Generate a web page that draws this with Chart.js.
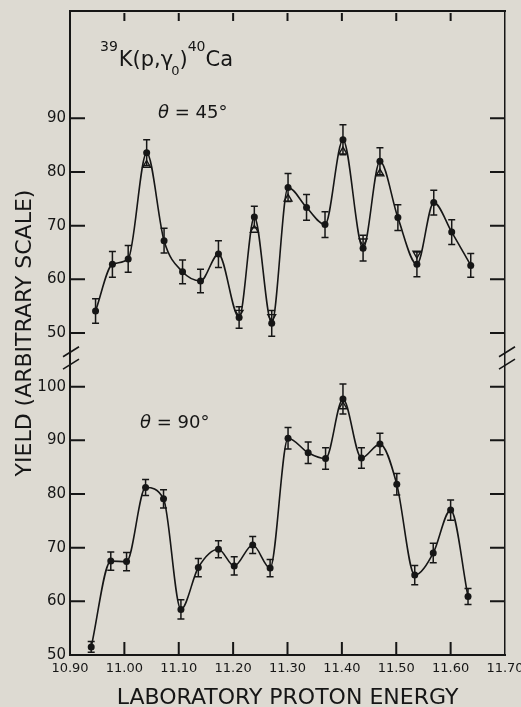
<!DOCTYPE html>
<html>
<head>
<meta charset="utf-8">
<script src="https://cdn.jsdelivr.net/npm/chart.js@4.4.1/dist/chart.umd.min.js"></script>
<style>
  html, body { margin: 0; padding: 0; background: #dddad2; }
  #chart { display: block; }
</style>
</head>
<body>
<canvas id="chart" width="521" height="707"></canvas>
<script>
// 39K(p,g0)40Ca yield vs laboratory proton energy, two detector angles
// The upper panel (45 deg) sits on the same axis, shifted up by panelOffset units.

// theta = 45 deg
const energy45 = [10.947, 10.978, 11.007, 11.041, 11.073, 11.107, 11.140, 11.173, 11.211, 11.239, 11.271,
                  11.301, 11.335, 11.369, 11.402, 11.439, 11.470, 11.503, 11.538, 11.569, 11.602, 11.637];
const yield45 = [54.1, 62.8, 63.8, 83.6, 67.2, 61.4, 59.7, 64.7, 52.9, 71.6, 51.8,
                 77.1, 73.4, 70.2, 86.0, 65.8, 82.0, 71.5, 62.8, 74.3, 68.8, 62.6];
const err45 = [2.3, 2.4, 2.5, 2.4, 2.3, 2.2, 2.2, 2.5, 2.0, 2.0, 2.4,
               2.6, 2.4, 2.4, 2.8, 2.4, 2.5, 2.4, 2.3, 2.3, 2.3, 2.2];

// theta = 90 deg
const energy90 = [10.939, 10.975, 11.004, 11.039, 11.072, 11.104, 11.136, 11.173, 11.202, 11.236, 11.268,
                  11.301, 11.338, 11.370, 11.402, 11.436, 11.470, 11.501, 11.534, 11.568, 11.600, 11.632];
const yield90 = [51.5, 67.5, 67.4, 81.2, 79.1, 58.5, 66.3, 69.7, 66.6, 70.5, 66.2,
                 90.4, 87.7, 86.6, 97.7, 86.7, 89.3, 81.8, 64.9, 69.0, 77.0, 60.9];
const err90 = [1.0, 1.7, 1.7, 1.5, 1.7, 1.8, 1.7, 1.6, 1.7, 1.6, 1.6,
               2.0, 2.0, 2.0, 2.8, 1.9, 2.0, 2.0, 1.8, 1.8, 1.9, 1.5];

// open triangles
const tri45Energy = [11.041, 11.211, 11.239, 11.271, 11.301, 11.402, 11.439, 11.470, 11.538];
const tri45Yield = [81.3, 53.8, 69.2, 53.0, 75.0, 83.8, 67.1, 79.7, 64.8];
const tri45Up = [true, false, true, false, true, true, false, true, false];
const tri90Energy = [11.402];
const tri90Yield = [96.3];
const tri90Up = [true];

// axes
const xTickValues = [10.9, 11.0, 11.1, 11.2, 11.3, 11.4, 11.5, 11.6, 11.7];
const xTickLabels = ['10.90', '11.00', '11.10', '11.20', '11.30', '11.40', '11.50', '11.60', '11.70'];
const lowerTickValues = [50, 60, 70, 80, 90, 100];
const upperTickValues = [50, 60, 70, 80, 90];
const panelOffset = 60;

const INK = '#161616';
const PAPER = '#dddad2';

const yTickPositions = lowerTickValues.concat(upperTickValues.map(v => v + panelOffset));
const yTickText = lowerTickValues.concat(upperTickValues).map(String);

function points(xs, ys, off) {
    return xs.map((x, i) => ({ x: x, y: ys[i] + off }));
}

// paper colour behind everything
const paper = {
    id: 'paper',
    beforeDraw(chart) {
        const ctx = chart.ctx;
        ctx.save();
        ctx.fillStyle = PAPER;
        ctx.fillRect(0, 0, chart.width, chart.height);
        ctx.restore();
    }
};

// error bars with flat caps
const errorBars = {
    id: 'errorBars',
    afterDatasetsDraw(chart) {
        const ctx = chart.ctx, xs = chart.scales.x, ys = chart.scales.y;
        ctx.save();
        ctx.strokeStyle = INK;
        ctx.lineWidth = 1.5;
        const draw = (es, vs, errs, off) => {
            es.forEach((e, i) => {
                const px = xs.getPixelForValue(e);
                const top = ys.getPixelForValue(vs[i] + off + errs[i]);
                const bot = ys.getPixelForValue(vs[i] + off - errs[i]);
                ctx.beginPath();
                ctx.moveTo(px, top); ctx.lineTo(px, bot);
                ctx.moveTo(px - 3.5, top); ctx.lineTo(px + 3.5, top);
                ctx.moveTo(px - 3.5, bot); ctx.lineTo(px + 3.5, bot);
                ctx.stroke();
            });
        };
        draw(energy45, yield45, err45, panelOffset);
        draw(energy90, yield90, err90, 0);
        ctx.restore();
    }
};

// inward ticks on all four sides, break marks, labels inside the frame
const frame = {
    id: 'frame',
    afterDraw(chart) {
        const ctx = chart.ctx, a = chart.chartArea;
        const xs = chart.scales.x, ys = chart.scales.y;
        ctx.save();
        ctx.strokeStyle = INK;
        ctx.lineWidth = 2;
        ctx.beginPath();
        yTickPositions.forEach(v => {
            if (v === ys.min) return;
            const py = ys.getPixelForValue(v);
            ctx.moveTo(a.left, py); ctx.lineTo(a.left + 15, py);
            ctx.moveTo(a.right, py); ctx.lineTo(a.right - 15, py);
        });
        xTickValues.slice(1, -1).forEach(v => {
            const px = xs.getPixelForValue(v);
            ctx.moveTo(px, a.bottom); ctx.lineTo(px, a.bottom - 13);
            ctx.moveTo(px, a.top + 2); ctx.lineTo(px, a.top + 10);
        });
        ctx.stroke();

        // axis break between the panels
        ctx.lineWidth = 1.6;
        ctx.beginPath();
        [104.2, 106.5].forEach(v => {
            const py = ys.getPixelForValue(v);
            [a.left + 1, a.right + 2].forEach(cx => {
                ctx.moveTo(cx - 8, py + 5);
                ctx.lineTo(cx + 8, py - 5);
            });
        });
        ctx.stroke();

        // reaction label
        ctx.fillStyle = INK;
        ctx.textBaseline = 'alphabetic';
        ctx.textAlign = 'left';
        const base = a.top + 55;
        let cx = a.left + 30;
        const piece = (txt, size, dy, style) => {
            ctx.font = (style || '') + size + 'px "DejaVu Sans"';
            ctx.fillText(txt, cx, base + dy);
            cx += ctx.measureText(txt).width;
        };
        piece('39', 14, -15);
        cx += 1;
        piece('K(p,γ', 21, 0);
        cx -= 2;
        piece('0', 13, 9);
        piece(')', 21, 0);
        piece('40', 14, -15);
        piece('Ca', 21, 0);

        // angle labels
        const angle = (txt, x0, yc) => {
            ctx.textBaseline = 'middle';
            ctx.font = 'italic 18px "DejaVu Sans"';
            ctx.fillText('θ', x0, yc);
            const w = ctx.measureText('θ').width;
            ctx.font = '18px "DejaVu Sans"';
            ctx.fillText(' = ' + txt, x0 + w, yc);
        };
        angle('45°', a.left + 88, a.top + 102);
        angle('90°', a.left + 70, a.top + 412);
        ctx.restore();
    }
};

new Chart(document.getElementById('chart'), {
    type: 'line',
    data: {
        datasets: [
            {
                data: points(energy45, yield45, panelOffset),
                borderColor: INK,
                borderWidth: 1.6,
                cubicInterpolationMode: 'monotone',
                pointRadius: 3.5,
                pointBackgroundColor: INK,
                pointBorderWidth: 0
            },
            {
                data: points(energy90, yield90, 0),
                borderColor: INK,
                borderWidth: 1.6,
                cubicInterpolationMode: 'monotone',
                pointRadius: 3.5,
                pointBackgroundColor: INK,
                pointBorderWidth: 0
            },
            {
                data: points(tri45Energy, tri45Yield, panelOffset)
                    .concat(points(tri90Energy, tri90Yield, 0)),
                showLine: false,
                pointStyle: 'triangle',
                pointRotation: tri45Up.concat(tri90Up).map(up => up ? 0 : 180),
                pointRadius: 4.5,
                pointBackgroundColor: PAPER,
                pointBorderColor: INK,
                pointBorderWidth: 1.4
            }
        ]
    },
    options: {
        responsive: false,
        animation: false,
        layout: { padding: 0 },
        plugins: {
            legend: { display: false },
            tooltip: { enabled: false }
        },
        scales: {
            x: {
                type: 'linear',
                position: 'bottom',
                min: 10.9,
                max: 11.7,
                afterBuildTicks: scale => { scale.ticks = xTickValues.map(v => ({ value: v })); },
                afterFit: scale => { scale.height = 52; scale.paddingLeft = 0; scale.paddingRight = 0; },
                grid: { display: false, drawTicks: false },
                border: { color: INK, width: 2 },
                ticks: {
                    autoSkip: false,
                    maxRotation: 0,
                    padding: 6,
                    color: INK,
                    font: { family: 'DejaVu Sans', size: 13 },
                    callback: (v, i) => xTickLabels[i]
                },
                title: {
                    display: true,
                    text: 'LABORATORY PROTON ENERGY',
                    color: INK,
                    font: { family: 'DejaVu Sans', size: 22, lineHeight: 0.82 },
                    padding: { top: 0, bottom: 0 }
                }
            },
            y: {
                type: 'linear',
                position: 'left',
                min: 50,
                max: 170,
                afterBuildTicks: scale => { scale.ticks = yTickPositions.map(v => ({ value: v })); },
                afterFit: scale => { scale.width = 70; scale.paddingTop = 0; scale.paddingBottom = 0; },
                grid: { display: false, drawTicks: false },
                border: { color: INK, width: 2 },
                ticks: {
                    padding: 4,
                    color: INK,
                    font: { family: 'DejaVu Sans', size: 15 },
                    callback: (v, i) => yTickText[i]
                },
                title: {
                    display: true,
                    text: 'YIELD (ARBITRARY SCALE)',
                    color: INK,
                    font: { family: 'DejaVu Sans', size: 22, lineHeight: 1.2 },
                    padding: { top: 12, bottom: 0 }
                }
            },
            xTop: {
                type: 'linear',
                position: 'top',
                min: 10.9,
                max: 11.7,
                afterFit: scale => { scale.height = 11; scale.paddingLeft = 0; scale.paddingRight = 0; },
                grid: { display: false, drawTicks: false },
                border: { color: INK, width: 2 },
                ticks: { display: false }
            },
            yRight: {
                type: 'linear',
                position: 'right',
                min: 50,
                max: 170,
                afterFit: scale => { scale.width = 16; scale.paddingTop = 0; scale.paddingBottom = 0; },
                grid: { display: false, drawTicks: false },
                border: { color: INK, width: 1.5, dash: [5, 3] },
                ticks: { display: false }
            }
        }
    },
    plugins: [paper, errorBars, frame]
});
</script>
</body>
</html>
